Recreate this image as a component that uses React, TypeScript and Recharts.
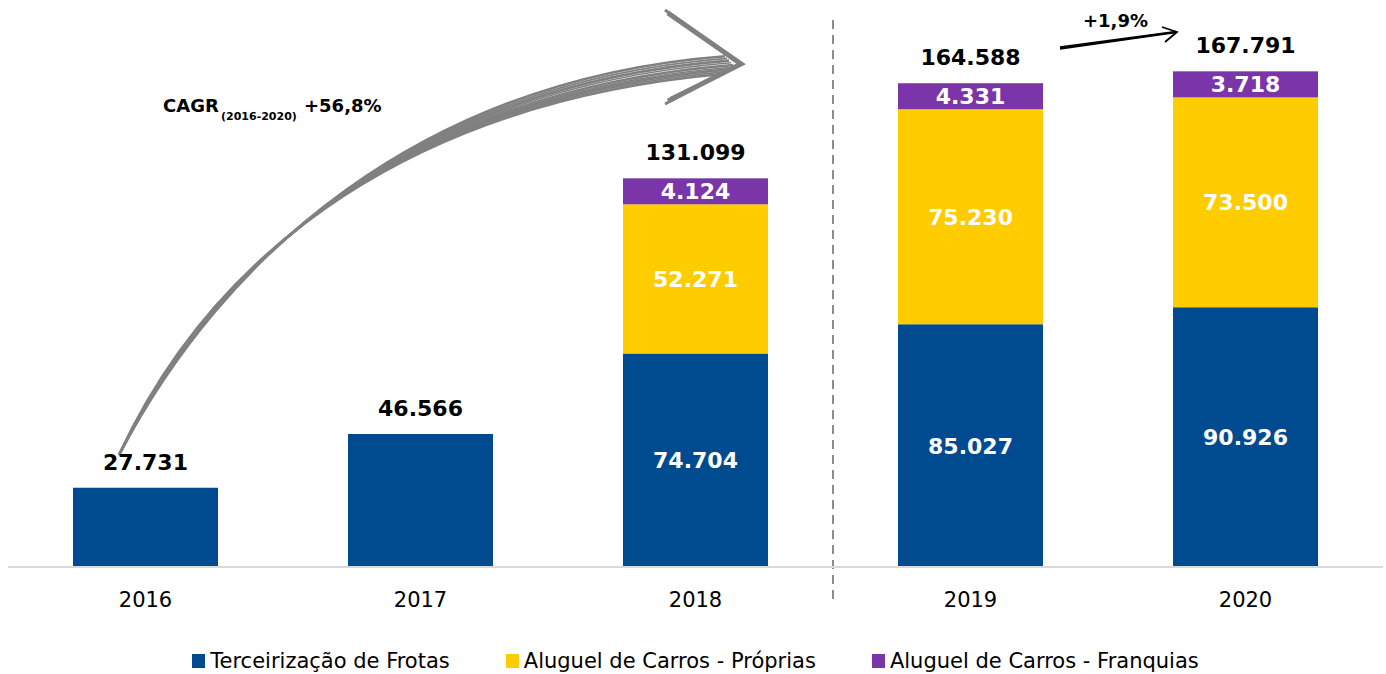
import React from 'react';
import { BarChart, Bar, XAxis, YAxis, Legend, LabelList, Customized } from 'recharts';

const years = ['2016', '2017', '2018', '2019', '2020'];
const terceirizacao = [27731, 46566, 74704, 85027, 90926];
const proprias = [null, null, 52271, 75230, 73500];
const franquias = [null, null, 4124, 4331, 3718];
const totais = [27731, 46566, 131099, 164588, 167791];

const seriesNames = ['Terceirização de Frotas', 'Aluguel de Carros - Próprias', 'Aluguel de Carros - Franquias'];
const colors = ['#004A8F', '#FFCC00', '#7A35A9'];

const data = years.map((year, i) => ({
  year,
  terceirizacao: terceirizacao[i],
  proprias: proprias[i],
  franquias: franquias[i],
  // blue value is only printed inside the bar when something is stacked on it
  blueInner: proprias[i] != null ? terceirizacao[i] : null,
  totalSolo: franquias[i] == null ? totais[i] : null,
  totalStacked: franquias[i] != null ? totais[i] : null,
}));

const FONT = '"DejaVu Sans", sans-serif';
// purple segments are drawn taller than their value so the label fits
const MIN_PURPLE = 26;

const fmt = (v: number) => String(v).replace(/\B(?=(\d{3})+(?!\d))/g, '.');

function PurpleShape(props: any) {
  const { x, y, width, height, fill } = props;
  if (!height) return null;
  const h = Math.max(height, MIN_PURPLE);
  return <rect x={x} y={y + height - h} width={width} height={h} fill={fill} />;
}

function InnerLabel(props: any) {
  const { x, y, width, height, value } = props;
  if (value == null) return null;
  return (
    <text x={x + width / 2} y={y + height / 2} dy={8} textAnchor="middle" fill="#fff" fontSize={22} fontWeight="bold" fontFamily={FONT}>
      {fmt(value)}
    </text>
  );
}

function PurpleInnerLabel(props: any) {
  const { x, y, width, height, value } = props;
  if (value == null) return null;
  const h = Math.max(height, MIN_PURPLE);
  const top = y + height - h;
  return (
    <text x={x + width / 2} y={top + h / 2} dy={8} textAnchor="middle" fill="#fff" fontSize={22} fontWeight="bold" fontFamily={FONT}>
      {fmt(value)}
    </text>
  );
}

function TotalLabel(props: any) {
  const { x, y, width, height, value, purple } = props;
  if (value == null) return null;
  const top = purple ? y + height - Math.max(height, MIN_PURPLE) : y;
  return (
    <text x={x + width / 2} y={top - 26} dy={8} textAnchor="middle" fill="#000" fontSize={22} fontWeight="bold" fontFamily={FONT}>
      {fmt(value)}
    </text>
  );
}

function LegendContent({ payload }: any) {
  const items = [...(payload || [])].sort((a: any, b: any) => seriesNames.indexOf(a.value) - seriesNames.indexOf(b.value));
  return (
    <div style={{ display: 'flex', justifyContent: 'center', height: 40, paddingTop: 14, boxSizing: 'border-box', fontFamily: FONT, fontSize: 21, lineHeight: '24px' }}>
      {items.map((p: any) => (
        <div key={p.value} style={{ display: 'flex', alignItems: 'center', margin: '0 28px' }}>
          <span style={{ width: 13, height: 14, background: p.color, marginRight: 5, display: 'inline-block' }} />
          <span style={{ color: '#000' }}>{p.value}</span>
        </div>
      ))}
    </div>
  );
}

function Decorations() {
  const body = [-8, -6, -4, -2, 0, 2, 4, 6, 8].map(
    (d) => `M119,455 C${220 - d * 0.4},${250 - d * 0.7} 420,${90 + d * 1.3} ${733 - Math.abs(d)},${65 + d * 1.1}`
  );
  return (
    <g>
      <line x1={833} y1={20} x2={833} y2={605} stroke="#8C8C8C" strokeWidth={2} strokeDasharray="9 6" />
      {body.map((p, i) => (
        <path key={i} d={p} fill="none" stroke="#808080" strokeWidth={i % 2 ? 1.6 : 2.6} />
      ))}
      {[-3, 0, 3].map((d) => (
        <path key={d} d={`M${668 + d},${13 + d} L${741 + d * 0.3},64 L${668 + d},${101 - d}`} fill="none" stroke="#808080" strokeWidth={d === 0 ? 5 : 3} strokeLinejoin="miter" />
      ))}
      <text x={163} y={112} fontFamily={FONT} fontWeight="bold" fontSize={18} fill="#000">CAGR</text>
      <text x={221} y={120} fontFamily={FONT} fontWeight="bold" fontSize={11} fill="#000">(2016-2020)</text>
      <text x={304} y={112} fontFamily={FONT} fontWeight="bold" fontSize={18} fill="#000">+56,8%</text>
      <text x={1083} y={27} fontFamily={FONT} fontWeight="bold" fontSize={18} fill="#000">+1,9%</text>
      {[-1, 0, 1].map((d) => (
        <path key={d} d={`M1060,${48 + d} L1176,${32 + d * 0.5}`} fill="none" stroke="#000" strokeWidth={1.4} />
      ))}
      <path d="M1162,27 L1177,32 L1165,42" fill="none" stroke="#000" strokeWidth={1.8} />
    </g>
  );
}

export default function App() {
  return (
    <div style={{ position: 'absolute', left: 0, top: 0, width: 1386, height: 674, background: '#fff', fontFamily: FONT }}>
      <BarChart width={1386} height={674} data={data} margin={{ top: 10, right: 3, left: 8, bottom: 0 }} barSize={145}>
        <XAxis
          dataKey="year"
          axisLine={{ stroke: '#D9D9D9', strokeWidth: 2 }}
          tickLine={false}
          tickSize={0}
          tickMargin={25}
          height={67}
          tick={{ fontSize: 21, fill: '#000', fontFamily: FONT }}
        />
        <YAxis hide domain={[0, 195000]} allowDataOverflow />
        <Legend verticalAlign="bottom" content={<LegendContent />} />
        <Bar dataKey="terceirizacao" name={seriesNames[0]} stackId="a" fill={colors[0]} isAnimationActive={false}>
          <LabelList dataKey="blueInner" content={<InnerLabel />} />
          <LabelList dataKey="totalSolo" content={<TotalLabel />} />
        </Bar>
        <Bar dataKey="proprias" name={seriesNames[1]} stackId="a" fill={colors[1]} isAnimationActive={false}>
          <LabelList dataKey="proprias" content={<InnerLabel />} />
        </Bar>
        <Bar dataKey="franquias" name={seriesNames[2]} stackId="a" fill={colors[2]} shape={<PurpleShape />} isAnimationActive={false}>
          <LabelList dataKey="franquias" content={<PurpleInnerLabel />} />
          <LabelList dataKey="totalStacked" content={<TotalLabel purple />} />
        </Bar>
        <Customized component={<Decorations />} />
      </BarChart>
    </div>
  );
}
